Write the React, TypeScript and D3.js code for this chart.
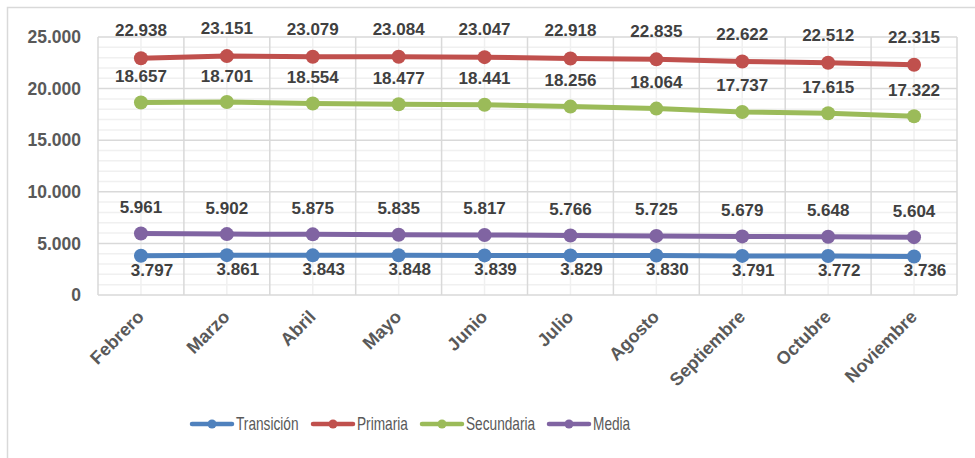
import React from "react";
import * as d3 from "d3";

const months = ["Febrero", "Marzo", "Abril", "Mayo", "Junio", "Julio", "Agosto", "Septiembre", "Octubre", "Noviembre"];
const transicion = [3797, 3861, 3843, 3848, 3839, 3829, 3830, 3791, 3772, 3736];
const primaria = [22938, 23151, 23079, 23084, 23047, 22918, 22835, 22622, 22512, 22315];
const secundaria = [18657, 18701, 18554, 18477, 18441, 18256, 18064, 17737, 17615, 17322];
const media = [5961, 5902, 5875, 5835, 5817, 5766, 5725, 5679, 5648, 5604];
const yTicks = [0, 5000, 10000, 15000, 20000, 25000];

const series = [
  { name: "Transición", values: transicion, color: "#4f81bd", pos: "below" },
  { name: "Primaria", values: primaria, color: "#c0504d", pos: "above" },
  { name: "Secundaria", values: secundaria, color: "#9bbb59", pos: "above" },
  { name: "Media", values: media, color: "#8064a2", pos: "above" },
];

const W = 975, H = 458;
const L = 98, R = 957, T = 37, B = 295;

const loc = d3.formatLocale({ decimal: ",", thousands: ".", grouping: [3], currency: ["", ""] });
const fmt = loc.format(",d");

export default function App() {
  const x = d3.scaleBand<string>().domain(months).range([L, R]);
  const y = d3.scaleLinear().domain([0, 25000]).range([B, T]);
  const cx = (m: string) => (x(m) as number) + x.bandwidth() / 2;
  const minor = d3.range(0, 25001, 1000).filter((v) => v % 5000 !== 0);
  const line = d3.line<number>().x((_, i) => cx(months[i])).y((v) => y(v));
  const font = "'Liberation Sans', Arial, sans-serif";
  const legendX = [192, 313, 422, 549];

  return (
    <svg width={W} height={H} style={{ position: "absolute", left: 0, top: 0, background: "#fff" }} fontFamily={font}>
      <rect x={7.5} y={7.5} width={990} height={470} fill="#fff" stroke="#d9d9d9" strokeWidth={1.5} />
      {/* minor grid */}
      {minor.map((v) => (
        <line key={"mh" + v} x1={L} x2={R} y1={y(v)} y2={y(v)} stroke="#f0f0f0" strokeWidth={1.5} />
      ))}
      {months.map((m) => (
        <line key={"mv" + m} x1={cx(m)} x2={cx(m)} y1={T} y2={B} stroke="#f0f0f0" strokeWidth={1.5} />
      ))}
      {/* major grid */}
      {yTicks.map((v) => (
        <line key={"h" + v} x1={L} x2={R} y1={y(v)} y2={y(v)} stroke="#d9d9d9" strokeWidth={1.5} />
      ))}
      {months.map((m) => (
        <line key={"v" + m} x1={x(m)} x2={x(m)} y1={T} y2={B} stroke="#d9d9d9" strokeWidth={1.5} />
      ))}
      <line x1={R} x2={R} y1={T} y2={B} stroke="#d9d9d9" strokeWidth={1.5} />
      {/* y labels */}
      {yTicks.map((v) => (
        <text key={"yl" + v} x={81} y={y(v)} dy="0.35em" textAnchor="end" fontSize={17.5} fontWeight="bold" fill="#595959">
          {fmt(v)}
        </text>
      ))}
      {/* x labels */}
      {months.map((m) => (
        <text key={"xl" + m} transform={`translate(${cx(m) + 4},${318}) rotate(-45)`} textAnchor="end" fontSize={18} fontWeight="bold" fill="#595959">
          {m}
        </text>
      ))}
      {/* series */}
      {series.map((s) => (
        <g key={s.name}>
          <path d={line(s.values) as string} fill="none" stroke={s.color} strokeWidth={5} strokeLinejoin="round" />
          {s.values.map((v, i) => (
            <circle key={i} cx={cx(months[i])} cy={y(v)} r={7} fill={s.color} />
          ))}
        </g>
      ))}
      {series.map((s) =>
        s.values.map((v, i) => (
          <text
            key={s.name + i}
            x={cx(months[i]) + (s.pos === "below" ? 11 : 0)}
            y={y(v) + (s.pos === "below" ? 20 : s.name === "Primaria" ? -22 : -20.5)}
            textAnchor="middle"
            fontSize={17}
            fontWeight="bold"
            fill="#404040"
          >
            {fmt(v)}
          </text>
        ))
      )}
      {/* legend */}
      {series.map((s, i) => (
        <g key={"lg" + s.name}>
          <line x1={legendX[i]} x2={legendX[i] + 40} y1={424} y2={424} stroke={s.color} strokeWidth={4.5} strokeLinecap="round" />
          <circle cx={legendX[i] + 20} cy={424} r={4.5} fill={s.color} />
          <g transform={`translate(${legendX[i] + 44},424) scale(0.76,1)`}>
            <text x={0} y={0} dy="0.36em" fontSize={18} fill="#595959">
              {s.name}
            </text>
          </g>
        </g>
      ))}
    </svg>
  );
}
